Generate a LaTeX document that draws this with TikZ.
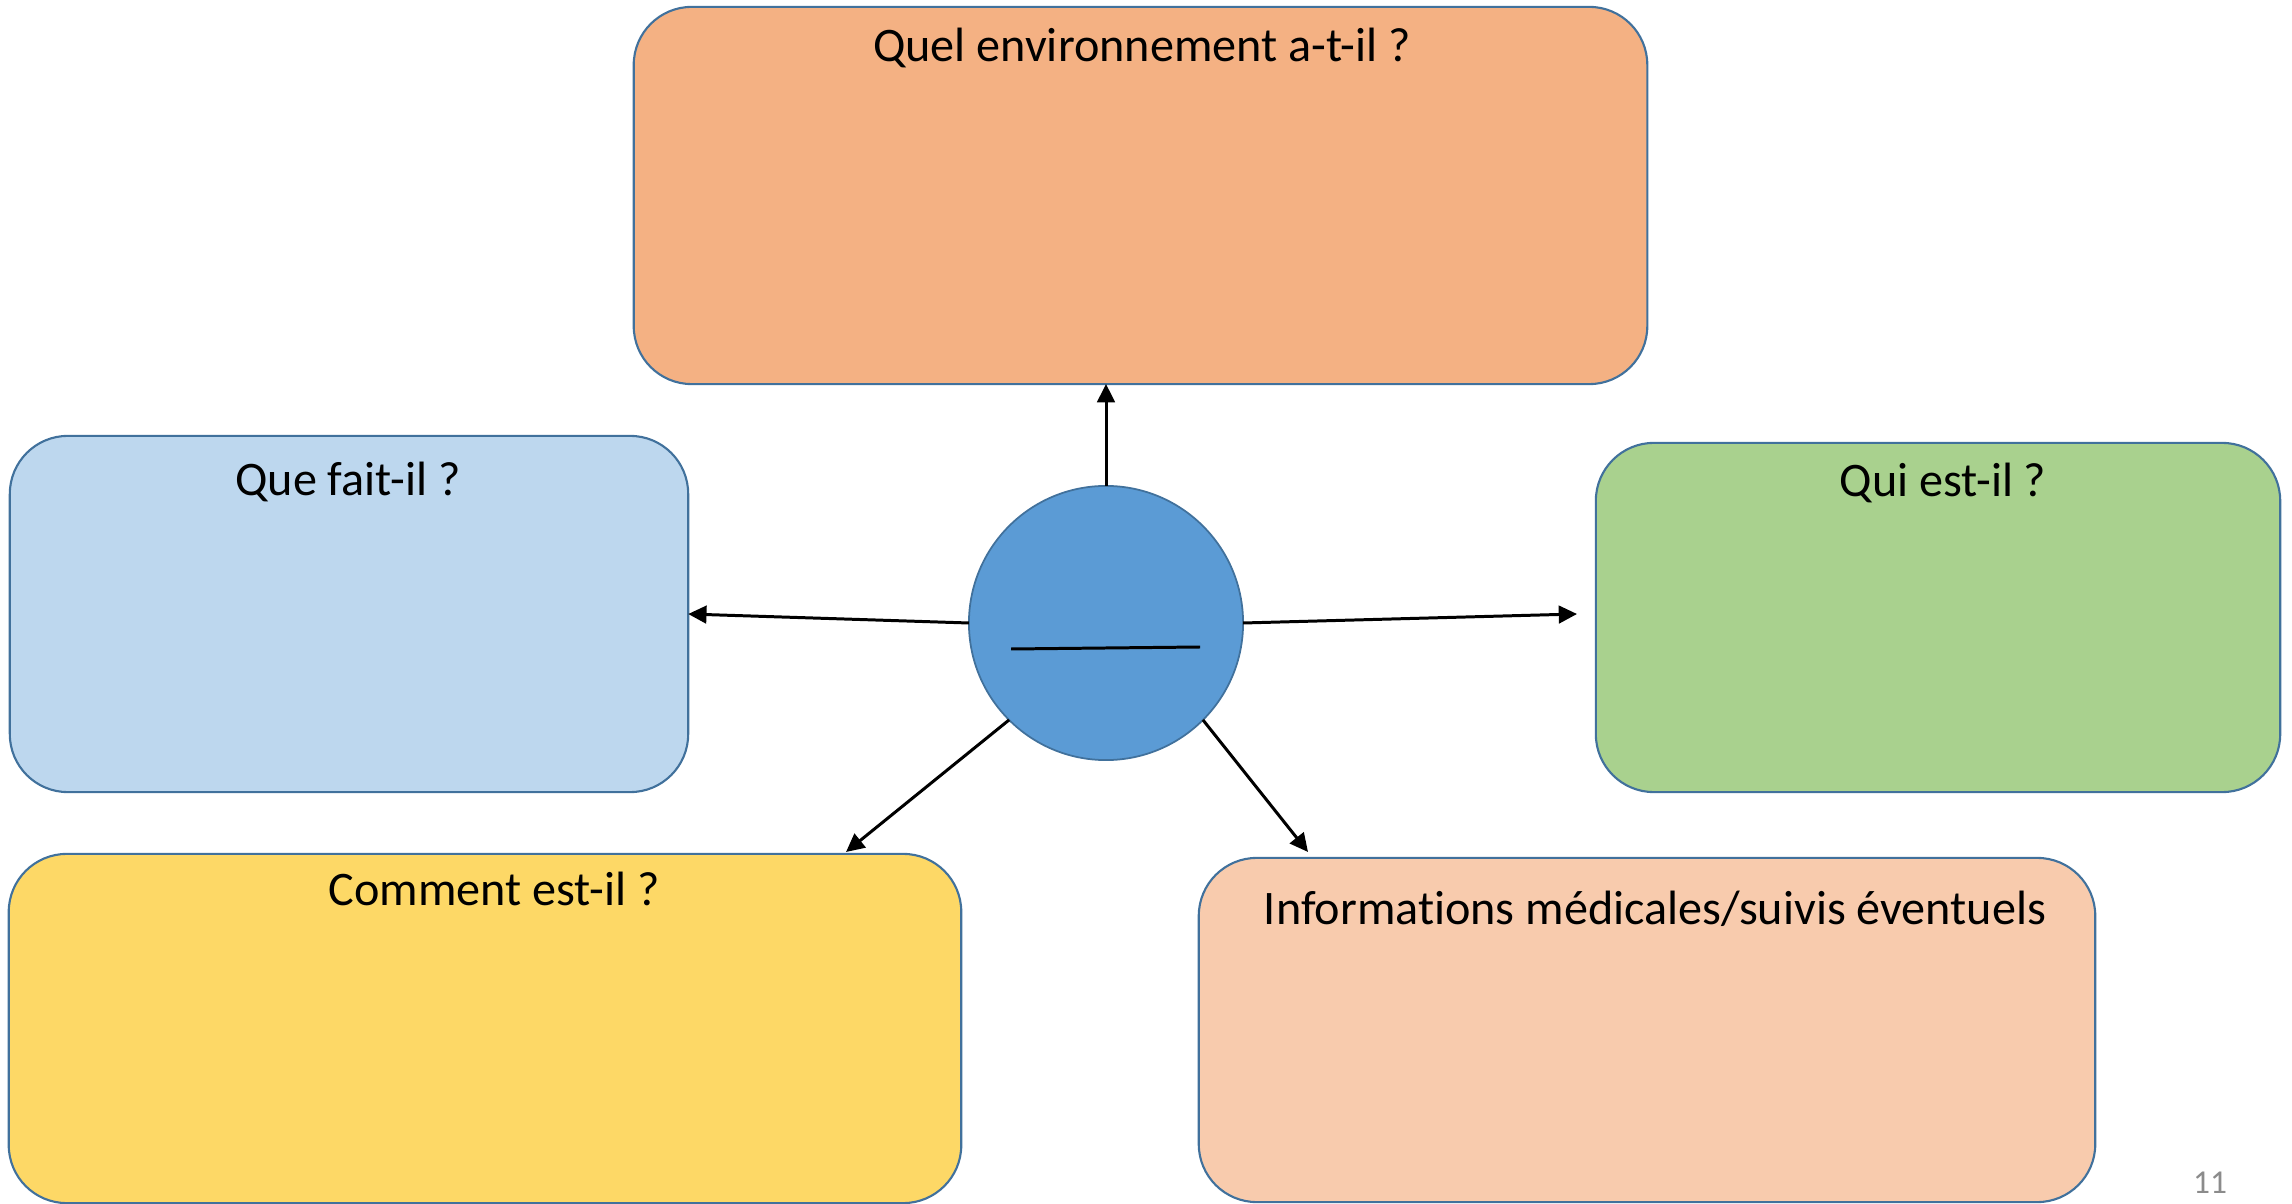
\documentclass[tikz,border=0pt]{standalone}
\usepackage{fontspec}
\setmainfont{Carlito}[RawFeature=-liga]
\usetikzlibrary{arrows.meta}
\definecolor{cOrange}{HTML}{F4B183}
\definecolor{cBlue}{HTML}{BDD7EE}
\definecolor{cGreen}{HTML}{A9D18E}
\definecolor{cYellow}{HTML}{FDD866}
\definecolor{cPeach}{HTML}{F8CBAD}
\definecolor{cCircle}{HTML}{5B9BD5}
\definecolor{cEdge}{HTML}{41719C}
\definecolor{cNum}{HTML}{8B8B8B}
\tikzset{
  box/.style={draw=cEdge, line width=0.6pt, rounded corners=0.58cm, inner sep=0pt, outer sep=0pt},
  title/.style={font=\fontsize{13.7pt}{16pt}\selectfont, anchor=base, inner sep=0pt},
  conn/.style={-{Triangle[length=5.2pt,width=5pt]}, line width=0.85pt, black},
}
\begin{document}
\begin{tikzpicture}[x=0.01cm, y=-0.01cm]
\useasboundingbox (0,0) rectangle (2292,1204);
% boxes
\node[box, fill=cOrange, minimum width=10.13cm, minimum height=3.77cm] (env) at (1140.5,195.5) {};
\node[box, fill=cBlue, minimum width=6.78cm, minimum height=3.56cm] (fait) at (349,614) {};
\node[box, fill=cGreen, minimum width=6.84cm, minimum height=3.49cm] (qui) at (1938,617.5) {};
\node[box, fill=cYellow, minimum width=9.52cm, minimum height=3.49cm] (comment) at (485,1028.5) {};
\node[box, fill=cPeach, minimum width=8.96cm, minimum height=3.44cm] (info) at (1647,1030) {};
% titles
\node[title] (tenv) at (1142,62) {Quel environnement a-t-il ?};
\node[title] (tfait) at (348,496) {Que fait-il ?};
\node[title] (tqui) at (1943,497) {Qui est-il ?};
\node[title] (tcomment) at (494,905) {Comment est-il ?};
\node[title] (tinfo) at (1655,924) {Informations médicales/suivis éventuels};
% centre
\node[circle, draw=cEdge, line width=0.5pt, fill=cCircle, minimum size=2.74cm, inner sep=0pt, outer sep=0pt] (c) at (1106,623) {};
\coordinate (l1) at (1011,649);
\coordinate (l2) at (1200,647);
\draw[line width=0.85pt] (l1) -- (l2);
% arrow ends
\coordinate (up) at (1106,384);
\coordinate (rt) at (1577,614);
\coordinate (dl) at (846,852);
\coordinate (dr) at (1308,852);
\draw[conn] (c.north) -- (up);
\draw[conn] (c.west) -- (fait.east);
\draw[conn] (c.east) -- (rt);
\draw[conn] (c.225) -- (dl);
\draw[conn] (c.315) -- (dr);
% page number
\node[font=\fontsize{9.5pt}{11pt}\selectfont, text=cNum, anchor=base, inner sep=0pt] (num) at (2210,1193) {11};
\end{tikzpicture}
\end{document}
